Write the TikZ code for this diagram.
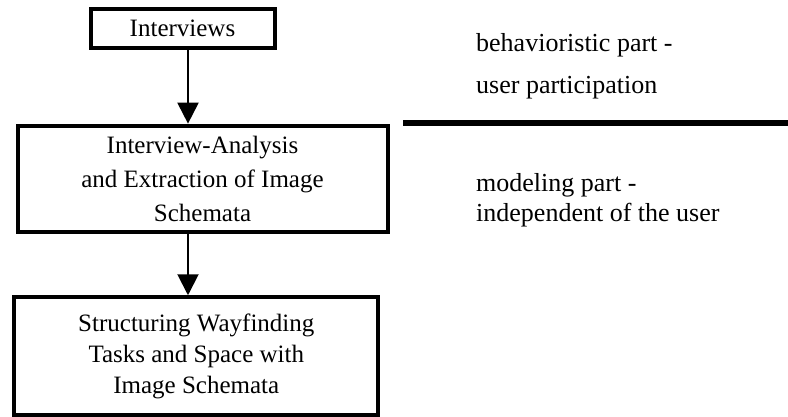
\documentclass[tikz,border=0pt]{standalone}
\usepackage{fontspec}
\setmainfont{Liberation Serif}
\usetikzlibrary{arrows.meta,positioning}

\begin{document}
\begin{tikzpicture}[x=1pt, y=-1pt,
	stage/.style={draw, line width=4pt, align=center, inner sep=0pt, font=\fontsize{25}{31}\selectfont},
	note/.style={anchor=base west, align=left, inner sep=0pt},
	>={Triangle[width=21pt,length=21pt]}]
	\useasboundingbox (0,0) rectangle (788,417);
	\node[stage, minimum width=184pt, minimum height=38.5pt] (iv) at (182.5,28.3) {Interviews};
	\node[stage, minimum width=370pt, minimum height=106.7pt, font=\fontsize{25}{34}\selectfont] (ana) at (202.5,179) {Interview-Analysis\\ and Extraction of Image\\Schemata};
	\node[stage, minimum width=364.3pt, minimum height=117.5pt] (struct) at (196.3,356) {Structuring Wayfinding\\Tasks and Space with\\Image Schemata};
	\coordinate (spine) at (188,0);

	\draw[->, line width=2pt] (iv.south -| spine) -- (ana.north -| spine);
	\draw[->, line width=2pt] (ana.south -| spine) -- (struct.north -| spine);

	% divider between the two parts
	\coordinate (rule west) at (403,123);
	\coordinate (rule east) at (788,123);
	\draw[line width=6pt] (rule west) -- (rule east);

	\node[note, font=\fontsize{26}{42}\selectfont] (behav) at (476,94) {behavioristic part -\\user participation};
	\node[note, font=\fontsize{26}{30}\selectfont] (model) at (476,222) {modeling part -\\independent of the user};
\end{tikzpicture}
\end{document}
